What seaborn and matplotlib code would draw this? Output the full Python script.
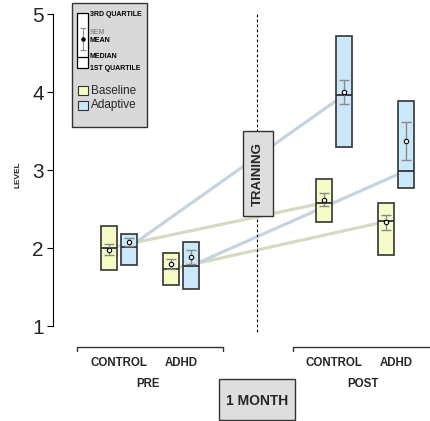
import numpy as np
import pandas as pd
import seaborn as sns
import matplotlib.pyplot as plt
from matplotlib.patches import Rectangle

sns.set_style("ticks")
plt.rcParams['font.family'] = ['Liberation Sans', 'DejaVu Sans']

# data
phases = ["PRE", "POST"]
groups = ["CONTROL", "ADHD"]
conditions = ["Baseline", "Adaptive"]

# order: PRE-CONTROL-Base, PRE-CONTROL-Adap, PRE-ADHD-Base, PRE-ADHD-Adap, POST-... same
q1 = [1.72, 1.78, 1.52, 1.47, 2.33, 3.29, 1.91, 2.77]
median = [2.00, 2.01, 1.73, 1.77, 2.58, 3.96, 2.34, 2.99]
q3 = [2.28, 2.18, 1.93, 2.08, 2.89, 4.72, 2.58, 3.89]
mean = [1.98, 2.08, 1.80, 1.89, 2.62, 4.00, 2.33, 3.37]
sem = [0.065, 0.05, 0.065, 0.09, 0.08, 0.15, 0.095, 0.24]

colors = {"Baseline": "#f6fbc8", "Adaptive": "#cbe8fb"}
line_colors = {"Baseline": "#d7dac2", "Adaptive": "#c6d4df"}

# layout
phase_x = [66, 281]
group_dx = 62
cond_dx = 10
box_w = 15.5

rows = []
i = 0
for p, ph in enumerate(phases):
    for g, gr in enumerate(groups):
        for c, cond in enumerate(conditions):
            rows.append({
                "phase": ph, "group": gr, "cond": cond,
                "x": phase_x[p] + g * group_dx + (2 * c - 1) * cond_dx,
                "q1": q1[i], "med": median[i], "q3": q3[i],
                "mean": mean[i], "sem": sem[i],
            })
            i += 1
df = pd.DataFrame(rows)

W, H = 430, 421
fig = plt.figure(figsize=(W / 100, H / 100), dpi=100)
ax = fig.add_axes([53 / W, 95 / H, 377 / W, 312 / H])

# connecting lines between medians
sns.lineplot(data=df, x="x", y="med", hue="cond", units="group", estimator=None,
             palette=line_colors, lw=2.3, legend=False, sort=False, ax=ax, zorder=1)

# boxes
stats = []
for _, r in df.iterrows():
    stats.append({"med": r["med"], "q1": r["q1"], "q3": r["q3"],
                  "whislo": r["q1"], "whishi": r["q3"], "fliers": []})
bp = ax.bxp(stats, positions=df["x"], widths=box_w, patch_artist=True,
            showcaps=False, showfliers=False, manage_ticks=False,
            boxprops=dict(edgecolor="#333333", linewidth=1.2),
            medianprops=dict(color="#333333", linewidth=1.3),
            whiskerprops=dict(linestyle="none"))
for patch, cond in zip(bp["boxes"], df["cond"]):
    patch.set_facecolor(colors[cond])
    patch.set_zorder(2)
for m in bp["medians"]:
    m.set_zorder(3)

ax.errorbar(df["x"], df["mean"], yerr=df["sem"], fmt="none", ecolor="#8a8a8a",
            elinewidth=1, capsize=3.5, capthick=1, zorder=4)
ax.scatter(df["x"], df["mean"], s=10, facecolor="white", edgecolor="black",
           linewidth=0.8, zorder=5)

ax.set_xlim(0, 377)
ax.set_ylim(1, 5)
ax.set_yticks([1, 2, 3, 4, 5])
ax.set_xticks([])
ax.tick_params(axis="y", labelsize=15, length=4.5, width=0.8, color="black", pad=2)
for s in ["top", "right", "bottom"]:
    ax.spines[s].set_visible(False)
ax.spines["left"].set_color("black")
ax.spines["left"].set_linewidth(0.8)
ax.set_xlabel("")
ax.set_ylabel("")
fig.text(18 / W, 1 - 175 / H, "LEVEL", rotation=90, fontsize=6, fontweight="bold",
         ha="center", va="center")

# overlay in pixel coordinates for annotations
ov = fig.add_axes([0, 0, 1, 1], zorder=10)
ov.set_xlim(0, W)
ov.set_ylim(H, 0)
ov.axis("off")
ov.patch.set_alpha(0)

# dashed divider + training box
ov.plot([257, 257], [14, 332], color="black", lw=0.8, ls=(0, (2.5, 2)), zorder=1)
ov.add_patch(Rectangle((243, 131), 30, 85, facecolor="#dedede", edgecolor="#333333",
                       lw=1, zorder=3))
ov.text(258, 173.5, "TRAINING", rotation=90, fontsize=9.5, fontweight="bold",
        ha="center", va="center", zorder=4)

# brackets and labels
ov.plot([77, 77, 223, 223], [351, 347, 347, 351], color="#333333", lw=1)
ov.plot([293, 293, 432], [351, 347, 347], color="#333333", lw=1, clip_on=False)
for p, ph in enumerate(phases):
    centers = [53 + phase_x[p] + g * group_dx for g in range(len(groups))]
    for cx, gr in zip(centers, groups):
        ov.text(cx, 363, gr, fontsize=8.3, fontweight="bold", ha="center", va="center")
    ov.text(np.mean(centers) - 2, 384, ph, fontsize=8.3, fontweight="bold",
            ha="center", va="center")

ov.add_patch(Rectangle((219, 379), 76, 41, facecolor="#dedede", edgecolor="#333333",
                       lw=1, zorder=3))
ov.text(257, 401, "1 MONTH", fontsize=10, fontweight="bold", ha="center", va="center",
        zorder=4)

# legend box
ov.add_patch(Rectangle((72, 3), 75, 124, facecolor="#d9d9d9", edgecolor="#333333",
                       lw=1, zorder=3))
ov.add_patch(Rectangle((77, 13), 11, 55, facecolor="white", edgecolor="black",
                       lw=0.9, zorder=4))
ov.plot([77, 88], [57, 57], color="black", lw=0.9, zorder=5)
ov.errorbar([82.5], [39], yerr=[11], fmt="none", ecolor="#8a8a8a", elinewidth=0.8,
            capsize=2.5, capthick=0.8, zorder=5)
ov.scatter([82.5], [39], s=5, facecolor="black", edgecolor="black", zorder=6)
leg_txt = [("3RD QUARTILE", 15, "black"), ("SEM", 32, "#8a8a8a"), ("MEAN", 40, "black"),
           ("MEDIAN", 57, "black"), ("1ST QUARTILE", 69, "black")]
for t, y, c in leg_txt:
    ov.text(90, y, t, fontsize=5, fontweight="bold", color=c, ha="left", va="center",
            zorder=5)
for cond, y in zip(conditions, [90.5, 105]):
    ov.add_patch(Rectangle((78, y - 4.5), 10, 9, facecolor=colors[cond],
                           edgecolor="#333333", lw=0.8, zorder=4))
    ov.text(91, y, cond, fontsize=8.5, ha="left", va="center", zorder=5)

fig.savefig("out.png", dpi=100)
